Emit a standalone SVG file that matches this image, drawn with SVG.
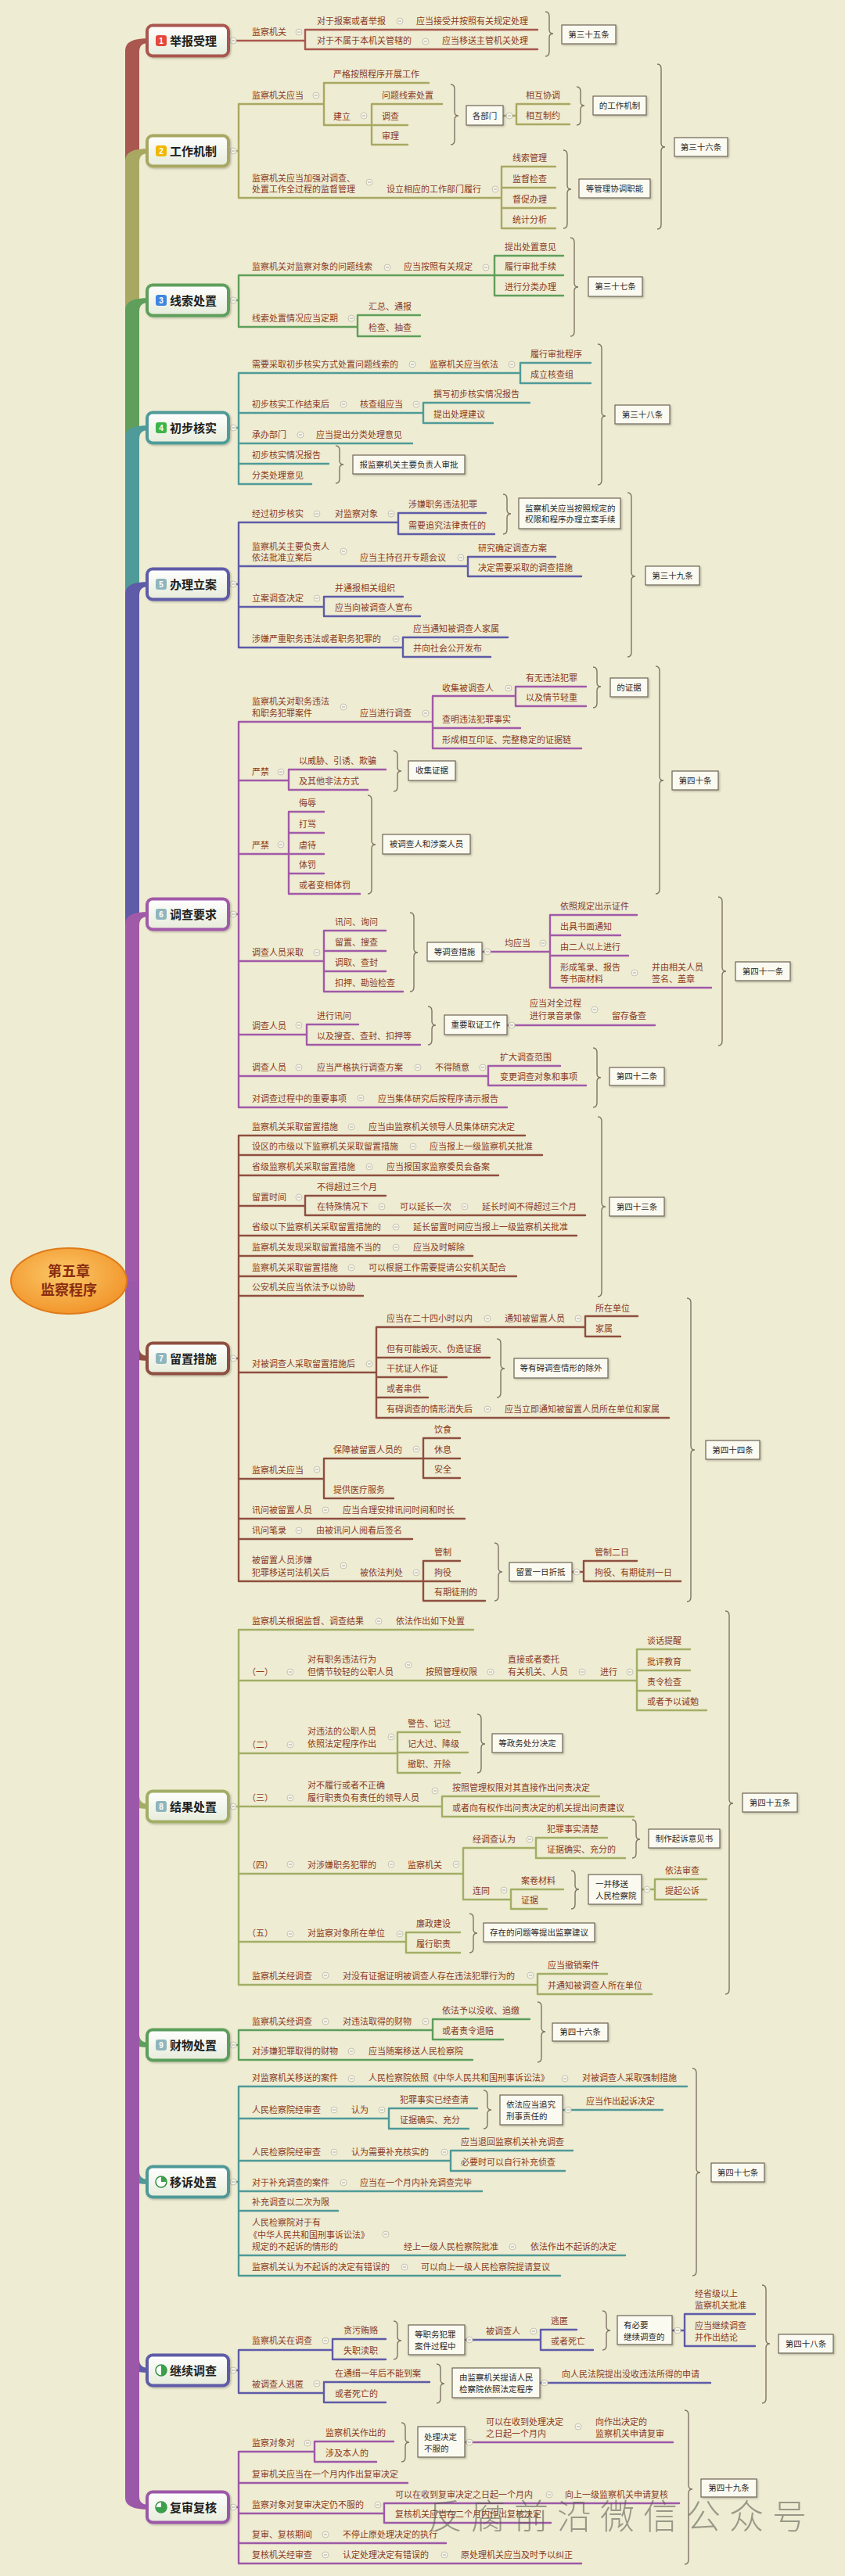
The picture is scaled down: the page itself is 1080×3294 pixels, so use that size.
<svg xmlns="http://www.w3.org/2000/svg" xmlns:xlink="http://www.w3.org/1999/xlink" width="1080" height="3294" viewBox="0 0 1080 3294">
<defs>
<style>
.t{font-family:"Noto Sans CJK SC","Noto Sans",sans-serif;font-size:11px;fill:#8b3b1f}
.bt{font-family:"Noto Sans CJK SC","Noto Sans",sans-serif;font-size:10.5px;fill:#2b2b2b}
.bm{text-anchor:middle}
.bx{fill:#fbfaf1;stroke:#6f6456;stroke-width:1.2;filter:url(#sh)}
.nt{font-family:"Noto Sans CJK SC","Noto Sans",sans-serif;font-size:15px;font-weight:bold;fill:#1f1f1f}
.bn{font-family:"Liberation Sans",sans-serif;font-size:10px;fill:#fff;text-anchor:middle;font-weight:bold}
.nb{fill:url(#ng);stroke-width:4;filter:url(#sh)}
.ln{fill:none;stroke-width:2.4;stroke-linecap:round}
.br{fill:none;stroke:#7f7466;stroke-width:1.4}
</style>
<linearGradient id="ng" x1="0" y1="0" x2="0" y2="1"><stop offset="0" stop-color="#ffffff"/><stop offset="1" stop-color="#e6ecda"/></linearGradient>
<radialGradient id="og" cx="0.45" cy="0.4" r="0.7"><stop offset="0" stop-color="#fbc868"/><stop offset="1" stop-color="#f08e22"/></radialGradient>
<filter id="sh" x="-10%" y="-20%" width="130%" height="150%"><feDropShadow dx="1.5" dy="1.5" stdDeviation="1" flood-color="#000" flood-opacity="0.22"/></filter>
<g id="col"><circle r="4" fill="#f6f5ea" stroke="#c5c3b0" stroke-width="1"/><path d="M-2,0H2" stroke="#aaa898" stroke-width="1"/></g>
</defs>
<rect width="1080" height="3294" fill="#eeecd2"/>

<g id="connectors">
<g id="trunk">
<path fill="#a9574f" d="M160,1638 L160,64 Q160,49 190,49 L190,55 Q178,55 178,66 L178,1638 Z"/>
<path fill="#a9a862" d="M160,1638 L160,205 Q160,190 190,190 L190,196 Q178,196 178,207 L178,1638 Z"/>
<path fill="#5f9f5b" d="M160,1638 L160,396 Q160,381 190,381 L190,387 Q178,387 178,398 L178,1638 Z"/>
<path fill="#4f9b99" d="M160,1638 L160,559 Q160,544 190,544 L190,550 Q178,550 178,561 L178,1638 Z"/>
<path fill="#5e5ba8" d="M160,1638 L160,759 Q160,744 190,744 L190,750 Q178,750 178,761 L178,1638 Z"/>
<path fill="#a15aa8" d="M160,1638 L160,1181 Q160,1166 190,1166 L190,1172 Q178,1172 178,1183 L178,1638 Z"/>
<path fill="#8e4f40" d="M160,1638 L160,1725 Q160,1740 190,1740 L190,1734 Q178,1734 178,1723 L178,1638 Z"/>
<path fill="#a2ae66" d="M160,1638 L160,2298 Q160,2313 190,2313 L190,2307 Q178,2307 178,2296 L178,1638 Z"/>
<path fill="#5c9e5c" d="M160,1638 L160,2603 Q160,2618 190,2618 L190,2612 Q178,2612 178,2601 L178,1638 Z"/>
<path fill="#4f9997" d="M160,1638 L160,2778 Q160,2793 190,2793 L190,2787 Q178,2787 178,2776 L178,1638 Z"/>
<path fill="#5e5ba8" d="M160,1638 L160,3019 Q160,3034 190,3034 L190,3028 Q178,3028 178,3017 L178,1638 Z"/>
<path fill="#9c58a8" d="M160,1638 L160,3194 Q160,3209 190,3209 L190,3203 Q178,3203 178,3192 L178,1638 Z"/>
</g>
<path class="ln" stroke="#a9574f" d="M292,52H390 M390,38V63 M390,38H687 M390,63H687"/>
<path class="ln" stroke="#a9a862" d="M292,193H305 M305,133V253 M305,133H414 M414,106V160 M414,106H548 M414,160H475 M475,133V185 M475,133H565 M475,160H521 M475,185H521 M643,148H660 M660,133V159 M660,133H728 M660,159H728 M305,253H641 M641,213V292 M641,213H710 M641,240H710 M641,266H710 M641,292H710"/>
<path class="ln" stroke="#5f9f5b" d="M292,384H305 M305,352V418 M305,352H632 M632,327V378 M632,327H720 M632,352H720 M632,378H720 M305,418H457 M457,403V430 M457,403H537 M457,430H537"/>
<path class="ln" stroke="#4f9b99" d="M292,547H305 M305,477V619 M305,477H665 M665,464V490 M665,464H755 M665,490H755 M305,528H541 M541,515V541 M541,515H677 M541,541H630 M305,567H527 M305,593H420 M305,619H398"/>
<path class="ln" stroke="#5e5ba8" d="M292,747H305 M305,668V828 M305,668H509 M509,656V683 M509,656H621 M509,683H632 M305,724H598 M598,712V737 M598,712H710 M598,737H743 M305,776H414 M414,763V788 M414,763H515 M414,788H537 M305,828H515 M515,815V840 M515,815H649 M515,840H627"/>
<path class="ln" stroke="#a15aa8" d="M292,1169H305 M305,923V1416 M305,923H553 M553,890V957 M553,890H659 M659,878V903 M659,878H749 M659,903H749 M553,931H665 M553,957H743 M305,998H369 M369,984V1010 M369,984H493 M369,1010H470 M305,1092H369 M369,1038V1143 M369,1038H414 M369,1065H414 M369,1092H414 M369,1117H414 M369,1143H460 M305,1229H414 M414,1190V1268 M414,1190H493 M414,1216H493 M414,1242H493 M414,1268H515 M616,1217H703 M703,1170V1263 M703,1170H814 M703,1196H793 M703,1222H803 M703,1263H909 M305,1323H392 M392,1310V1336 M392,1310H458 M392,1336H537 M648,1311H837 M305,1376H624 M624,1363V1388 M624,1363H716 M624,1388H749 M305,1416H648"/>
<path class="ln" stroke="#8e4f40" d="M292,1737H305 M305,1452V2022 M305,1452H671 M305,1477H693 M305,1503H637 M305,1542H390 M390,1529V1554 M390,1529H493 M390,1554H748 M305,1580H737 M305,1606H604 M305,1632H660 M305,1657H464 M305,1755H481 M481,1697V1813 M481,1697H748 M748,1683V1709 M748,1683H815 M748,1709H793 M481,1736H626 M481,1761H571 M481,1787H547 M481,1813H855 M305,1891H414 M414,1865V1916 M414,1865H541 M541,1839V1890 M541,1839H588 M541,1865H588 M541,1890H588 M414,1916H503 M305,1942H594 M305,1968H527 M305,2022H541 M541,1996V2047 M541,1996H588 M541,2022H588 M541,2047H620 M731,2010H746 M746,1996V2022 M746,1996H814 M746,2022H870"/>
<path class="ln" stroke="#a2ae66" d="M292,2310H305 M305,2084V2538 M305,2084H605 M305,2149H814 M814,2109V2187 M814,2109H882 M814,2136H882 M814,2162H882 M814,2187H903 M305,2242H508 M508,2215V2267 M508,2215H588 M508,2241H598 M508,2267H588 M305,2310H565 M565,2297V2323 M565,2297H766 M565,2323H810 M305,2396H592 M592,2363V2429 M592,2363H685 M685,2350V2376 M685,2350H776 M685,2376H799 M592,2429H653 M653,2416V2441 M653,2416H720 M653,2441H699 M820,2416H837 M837,2403V2429 M837,2403H903 M837,2429H903 M305,2483H519 M519,2471V2497 M519,2471H588 M519,2497H588 M305,2538H687 M687,2524V2550 M687,2524H776 M687,2550H833"/>
<path class="ln" stroke="#5c9e5c" d="M292,2615H305 M305,2596V2634 M305,2596H553 M553,2582V2608 M553,2582H677 M553,2608H643 M305,2634H604"/>
<path class="ln" stroke="#4f9997" d="M292,2790H305 M305,2668V2910 M305,2668H878 M305,2709H497 M497,2696V2722 M497,2696H610 M497,2722H599 M719,2698H847 M305,2763H576 M576,2750V2776 M576,2750H732 M576,2776H722 M305,2802H616 M305,2827H432 M305,2884H799 M305,2910H716"/>
<path class="ln" stroke="#5e5ba8" d="M292,3031H305 M305,3005V3060 M305,3005H425 M425,2991V3017 M425,2991H493 M425,3017H493 M594,2992H691 M691,2979V3005 M691,2979H737 M691,3005H758 M859,2980H875 M875,2959V3000 M875,2959H965 M875,3000H965 M305,3060H414 M414,3046V3072 M414,3046H549 M414,3072H493 M690,3047H908"/>
<path class="ln" stroke="#9c58a8" d="M292,3206H305 M305,3135V3278 M305,3135H402 M402,3122V3148 M402,3122H503 M402,3148H481 M594,3123H860 M305,3175H521 M305,3214H491 M491,3201V3226 M491,3201H868 M491,3226H704 M305,3252H570 M305,3278H743"/>
<g id="braces" class="br">
<path d="M697,15 Q702,15 702,21 V38 Q702,43 707,43 Q702,43 702,48 V66 Q702,72 697,72"/>
<path d="M576,108 Q581,108 581,114 V143 Q581,148 586,148 Q581,148 581,153 V179 Q581,185 576,185"/>
<path d="M737,111 Q742,111 742,117 V130 Q742,135 747,135 Q742,135 742,140 V154 Q742,160 737,160"/>
<path d="M720,192 Q725,192 725,198 V237 Q725,242 730,242 Q725,242 725,247 V286 Q725,292 720,292"/>
<path d="M840,82 Q845,82 845,88 V183 Q845,188 850,188 Q845,188 845,193 V287 Q845,293 840,293"/>
<path d="M729,304 Q734,304 734,310 V362 Q734,367 739,367 Q734,367 734,372 V424 Q734,430 729,430"/>
<path d="M429,570 Q434,570 434,576 V589 Q434,594 439,594 Q434,594 434,599 V612 Q434,618 429,618"/>
<path d="M764,440 Q769,440 769,446 V527 Q769,532 774,532 Q769,532 769,537 V614 Q769,620 764,620"/>
<path d="M643,632 Q648,632 648,638 V652 Q648,657 653,657 Q648,657 648,662 V677 Q648,683 643,683"/>
<path d="M802,630 Q807,630 807,636 V732 Q807,737 812,737 Q807,737 807,742 V834 Q807,840 802,840"/>
<path d="M758,853 Q763,853 763,859 V873 Q763,878 768,878 Q763,878 763,883 V899 Q763,905 758,905"/>
<path d="M503,960 Q508,960 508,966 V981 Q508,986 513,986 Q508,986 508,991 V1006 Q508,1012 503,1012"/>
<path d="M470,1017 Q475,1017 475,1023 V1075 Q475,1080 480,1080 Q475,1080 475,1085 V1137 Q475,1143 470,1143"/>
<path d="M838,852 Q843,852 843,858 V993 Q843,998 848,998 Q843,998 843,1003 V1137 Q843,1143 838,1143"/>
<path d="M524,1167 Q529,1167 529,1173 V1213 Q529,1218 534,1218 Q529,1218 529,1223 V1262 Q529,1268 524,1268"/>
<path d="M547,1287 Q552,1287 552,1293 V1306 Q552,1311 557,1311 Q552,1311 552,1316 V1330 Q552,1336 547,1336"/>
<path d="M918,1147 Q923,1147 923,1153 V1237 Q923,1242 928,1242 Q923,1242 923,1247 V1331 Q923,1337 918,1337"/>
<path d="M758,1340 Q763,1340 763,1346 V1373 Q763,1378 768,1378 Q763,1378 763,1383 V1410 Q763,1416 758,1416"/>
<path d="M764,1428 Q769,1428 769,1434 V1538 Q769,1543 774,1543 Q769,1543 769,1548 V1652 Q769,1658 764,1658"/>
<path d="M635,1712 Q640,1712 640,1718 V1745 Q640,1750 645,1750 Q640,1750 640,1755 V1781 Q640,1787 635,1787"/>
<path d="M632,1973 Q637,1973 637,1979 V2005 Q637,2010 642,2010 Q637,2010 637,2015 V2041 Q637,2047 632,2047"/>
<path d="M878,1660 Q883,1660 883,1666 V1849 Q883,1854 888,1854 Q883,1854 883,1859 V2042 Q883,2048 878,2048"/>
<path d="M610,2192 Q615,2192 615,2198 V2225 Q615,2230 620,2230 Q615,2230 615,2235 V2261 Q615,2267 610,2267"/>
<path d="M808,2327 Q813,2327 813,2333 V2347 Q813,2352 818,2352 Q813,2352 813,2357 V2370 Q813,2376 808,2376"/>
<path d="M730,2392 Q735,2392 735,2398 V2411 Q735,2416 740,2416 Q735,2416 735,2421 V2435 Q735,2441 730,2441"/>
<path d="M600,2447 Q605,2447 605,2453 V2467 Q605,2472 610,2472 Q605,2472 605,2477 V2491 Q605,2497 600,2497"/>
<path d="M927,2060 Q932,2060 932,2066 V2301 Q932,2306 937,2306 Q932,2306 932,2311 V2544 Q932,2550 927,2550"/>
<path d="M687,2560 Q692,2560 692,2566 V2593 Q692,2598 697,2598 Q692,2598 692,2603 V2631 Q692,2637 687,2637"/>
<path d="M618,2673 Q623,2673 623,2679 V2693 Q623,2698 628,2698 Q623,2698 623,2703 V2716 Q623,2722 618,2722"/>
<path d="M885,2645 Q890,2645 890,2651 V2773 Q890,2778 895,2778 Q890,2778 890,2783 V2904 Q890,2910 885,2910"/>
<path d="M503,2968 Q508,2968 508,2974 V2988 Q508,2993 513,2993 Q508,2993 508,2998 V3011 Q508,3017 503,3017"/>
<path d="M770,2955 Q775,2955 775,2961 V2975 Q775,2980 780,2980 Q775,2980 775,2985 V2999 Q775,3005 770,3005"/>
<path d="M558,3023 Q563,3023 563,3029 V3043 Q563,3048 568,3048 Q563,3048 563,3053 V3067 Q563,3073 558,3073"/>
<path d="M974,2922 Q979,2922 979,2928 V2992 Q979,2997 984,2997 Q979,2997 979,3002 V3067 Q979,3073 974,3073"/>
<path d="M513,3098 Q518,3098 518,3104 V3118 Q518,3123 523,3123 Q518,3123 518,3128 V3142 Q518,3148 513,3148"/>
<path d="M875,3082 Q880,3082 880,3088 V3178 Q880,3183 885,3183 Q880,3183 880,3188 V3273 Q880,3279 875,3279"/>
</g>
<g id="collapse-marks">
<use href="#col" x="298" y="52"/><use href="#col" x="382" y="41"/><use href="#col" x="511" y="27"/><use href="#col" x="544" y="53"/>
<use href="#col" x="298" y="193"/><use href="#col" x="404" y="122"/><use href="#col" x="465" y="148"/><use href="#col" x="651" y="148"/><use href="#col" x="472" y="233"/><use href="#col" x="633" y="242"/>
<use href="#col" x="298" y="384"/><use href="#col" x="495" y="342"/><use href="#col" x="621" y="342"/><use href="#col" x="449" y="407"/>
<use href="#col" x="298" y="547"/><use href="#col" x="527" y="466"/><use href="#col" x="654" y="466"/><use href="#col" x="439" y="517"/><use href="#col" x="532" y="517"/><use href="#col" x="384" y="556"/>
<use href="#col" x="298" y="747"/><use href="#col" x="405" y="657"/><use href="#col" x="500" y="657"/><use href="#col" x="439" y="705"/><use href="#col" x="589" y="713"/><use href="#col" x="405" y="765"/><use href="#col" x="506" y="817"/>
<use href="#col" x="298" y="1169"/><use href="#col" x="439" y="904"/><use href="#col" x="544" y="912"/><use href="#col" x="650" y="880"/><use href="#col" x="359" y="987"/><use href="#col" x="359" y="1080"/><use href="#col" x="405" y="1218"/><use href="#col" x="623" y="1217"/><use href="#col" x="694" y="1206"/><use href="#col" x="811" y="1244"/><use href="#col" x="382" y="1311"/><use href="#col" x="654" y="1311"/><use href="#col" x="760" y="1291"/><use href="#col" x="382" y="1365"/><use href="#col" x="534" y="1365"/><use href="#col" x="617" y="1365"/><use href="#col" x="461" y="1404"/>
<use href="#col" x="298" y="1737"/><use href="#col" x="449" y="1441"/><use href="#col" x="528" y="1466"/><use href="#col" x="472" y="1492"/><use href="#col" x="382" y="1531"/><use href="#col" x="488" y="1543"/><use href="#col" x="594" y="1543"/><use href="#col" x="506" y="1569"/><use href="#col" x="506" y="1595"/><use href="#col" x="449" y="1621"/><use href="#col" x="472" y="1744"/><use href="#col" x="623" y="1686"/><use href="#col" x="739" y="1686"/><use href="#col" x="623" y="1802"/><use href="#col" x="405" y="1879"/><use href="#col" x="532" y="1853"/><use href="#col" x="416" y="1931"/><use href="#col" x="382" y="1957"/><use href="#col" x="439" y="2002"/><use href="#col" x="532" y="2011"/><use href="#col" x="737" y="2010"/>
<use href="#col" x="298" y="2310"/><use href="#col" x="484" y="2073"/><use href="#col" x="371" y="2138"/><use href="#col" x="522" y="2129"/><use href="#col" x="627" y="2138"/><use href="#col" x="744" y="2138"/><use href="#col" x="805" y="2138"/><use href="#col" x="371" y="2231"/><use href="#col" x="500" y="2221"/><use href="#col" x="371" y="2299"/><use href="#col" x="556" y="2290"/><use href="#col" x="371" y="2384"/><use href="#col" x="500" y="2384"/><use href="#col" x="583" y="2384"/><use href="#col" x="677" y="2352"/><use href="#col" x="644" y="2417"/><use href="#col" x="827" y="2416"/><use href="#col" x="371" y="2473"/><use href="#col" x="511" y="2473"/><use href="#col" x="416" y="2526"/><use href="#col" x="678" y="2526"/>
<use href="#col" x="298" y="2615"/><use href="#col" x="416" y="2585"/><use href="#col" x="544" y="2585"/><use href="#col" x="449" y="2623"/>
<use href="#col" x="298" y="2790"/><use href="#col" x="449" y="2658"/><use href="#col" x="722" y="2658"/><use href="#col" x="427" y="2698"/><use href="#col" x="488" y="2698"/><use href="#col" x="726" y="2698"/><use href="#col" x="427" y="2752"/><use href="#col" x="568" y="2752"/><use href="#col" x="439" y="2791"/><use href="#col" x="493" y="2857"/><use href="#col" x="655" y="2873"/><use href="#col" x="517" y="2899"/>
<use href="#col" x="298" y="3031"/><use href="#col" x="416" y="2993"/><use href="#col" x="600" y="2992"/><use href="#col" x="682" y="2981"/><use href="#col" x="866" y="2980"/><use href="#col" x="405" y="3048"/><use href="#col" x="696" y="3047"/>
<use href="#col" x="298" y="3206"/><use href="#col" x="393" y="3124"/><use href="#col" x="600" y="3123"/><use href="#col" x="739" y="3103"/><use href="#col" x="483" y="3203"/><use href="#col" x="702" y="3190"/><use href="#col" x="416" y="3241"/><use href="#col" x="416" y="3267"/><use href="#col" x="568" y="3267"/>
</g>
</g>

<g id="center">
<ellipse cx="88" cy="1638" rx="74" ry="42" fill="url(#og)" stroke="#e07a1a" stroke-width="2"/>
<text x="88" y="1632" text-anchor="middle" style="font-family:'Noto Sans CJK SC',sans-serif;font-size:18px;font-weight:bold;fill:#8a2c10">第五章</text>
<text x="88" y="1656" text-anchor="middle" style="font-family:'Noto Sans CJK SC',sans-serif;font-size:18px;font-weight:bold;fill:#8a2c10">监察程序</text>
</g>

<g id="node-1"><rect class="nb" x="188" y="32.5" width="104" height="39" rx="7" stroke="#a9574f"/><rect x="199" y="45" width="14" height="14" rx="3" fill="#e5483c"/><text class="bn" x="206" y="56">1</text><text class="nt" x="217" y="57.5">举报受理</text></g>
<g id="node-2"><rect class="nb" x="188" y="173.5" width="104" height="39" rx="7" stroke="#a9a862"/><rect x="199" y="186" width="14" height="14" rx="3" fill="#f2b705"/><text class="bn" x="206" y="197">2</text><text class="nt" x="217" y="198.5">工作机制</text></g>
<g id="node-3"><rect class="nb" x="188" y="364.5" width="104" height="39" rx="7" stroke="#5f9f5b"/><rect x="199" y="377" width="14" height="14" rx="3" fill="#3f86e0"/><text class="bn" x="206" y="388">3</text><text class="nt" x="217" y="389.5">线索处置</text></g>
<g id="node-4"><rect class="nb" x="188" y="527.5" width="104" height="39" rx="7" stroke="#4f9b99"/><rect x="199" y="540" width="14" height="14" rx="3" fill="#3cb44a"/><text class="bn" x="206" y="551">4</text><text class="nt" x="217" y="552.5">初步核实</text></g>
<g id="node-5"><rect class="nb" x="188" y="727.5" width="104" height="39" rx="7" stroke="#5e5ba8"/><rect x="199" y="740" width="14" height="14" rx="3" fill="#8fb5bd"/><text class="bn" x="206" y="751">5</text><text class="nt" x="217" y="752.5">办理立案</text></g>
<g id="node-6"><rect class="nb" x="188" y="1149.5" width="104" height="39" rx="7" stroke="#a15aa8"/><rect x="199" y="1162" width="14" height="14" rx="3" fill="#8fb5bd"/><text class="bn" x="206" y="1173">6</text><text class="nt" x="217" y="1174.5">调查要求</text></g>
<g id="node-7"><rect class="nb" x="188" y="1717.5" width="104" height="39" rx="7" stroke="#8e4f40"/><rect x="199" y="1730" width="14" height="14" rx="3" fill="#8fb5bd"/><text class="bn" x="206" y="1741">7</text><text class="nt" x="217" y="1742.5">留置措施</text></g>
<g id="node-8"><rect class="nb" x="188" y="2290.5" width="104" height="39" rx="7" stroke="#a2ae66"/><rect x="199" y="2303" width="14" height="14" rx="3" fill="#8fb5bd"/><text class="bn" x="206" y="2314">8</text><text class="nt" x="217" y="2315.5">结果处置</text></g>
<g id="node-9"><rect class="nb" x="188" y="2595.5" width="104" height="39" rx="7" stroke="#5c9e5c"/><rect x="199" y="2608" width="14" height="14" rx="3" fill="#8fb5bd"/><text class="bn" x="206" y="2619">9</text><text class="nt" x="217" y="2620.5">财物处置</text></g>
<g id="node-10"><rect class="nb" x="188" y="2770.5" width="104" height="39" rx="7" stroke="#4f9997"/><circle cx="206" cy="2790" r="7" fill="#fff" stroke="#2f8f3f" stroke-width="1.5"/><path d="M206,2790 L206,2783 A7,7 0 0 1 213,2790 Z" fill="#3aa04a"/><text class="nt" x="217" y="2795.5">移诉处置</text></g>
<g id="node-11"><rect class="nb" x="188" y="3011.5" width="104" height="39" rx="7" stroke="#5e5ba8"/><circle cx="206" cy="3031" r="7" fill="#fff" stroke="#2f8f3f" stroke-width="1.5"/><path d="M206,3024 A7,7 0 0 1 206,3038 Z" fill="#3aa04a"/><text class="nt" x="217" y="3036.5">继续调查</text></g>
<g id="node-12"><rect class="nb" x="188" y="3186.5" width="104" height="39" rx="7" stroke="#9c58a8"/><circle cx="206" cy="3206" r="7" fill="#fff" stroke="#2f8f3f" stroke-width="1.5"/><path d="M206,3206 L206,3199 A7,7 0 1 1 199,3206 Z" fill="#3aa04a"/><text class="nt" x="217" y="3211.5">复审复核</text></g>

<g id="labels-1" class="t">
<text x="322" y="45">监察机关</text>
<text x="405" y="31">对于报案或者举报</text>
<text x="532" y="31">应当接受并按照有关规定处理</text>
<text x="405" y="56">对于不属于本机关管辖的</text>
<text x="565" y="56">应当移送主管机关处理</text>
</g>
<g id="boxes-1"><rect class="bx" x="718" y="32" width="69" height="24"/><text class="bt bm" x="752.5" y="48">第三十五条</text></g>

<g id="labels-2" class="t">
<text x="322" y="126">监察机关应当</text>
<text x="426" y="99">严格按照程序开展工作</text>
<text x="426" y="153">建立</text>
<text x="488" y="126">问题线索处置</text>
<text x="488" y="153">调查</text>
<text x="488" y="178">审理</text>
<text x="672" y="126">相互协调</text>
<text x="672" y="152">相互制约</text>
<text x="322" y="232">监察机关应当加强对调查、</text>
<text x="322" y="246">处置工作全过程的监督管理</text>
<text x="494" y="246">设立相应的工作部门履行</text>
<text x="655" y="206">线索管理</text>
<text x="655" y="233">监督检查</text>
<text x="655" y="259">督促办理</text>
<text x="655" y="285">统计分析</text>
</g>
<g id="boxes-2">
<rect class="bx" x="596" y="135" width="47" height="25"/><text class="bt bm" x="619.5" y="151.5">各部门</text>
<rect class="bx" x="758" y="123" width="68" height="24"/><text class="bt bm" x="792" y="139">的工作机制</text>
<rect class="bx" x="740" y="229" width="91" height="24"/><text class="bt bm" x="785.5" y="245">等管理协调职能</text>
<rect class="bx" x="862" y="176" width="68" height="24"/><text class="bt bm" x="896" y="192">第三十六条</text>
</g>

<g id="labels-3" class="t">
<text x="322" y="345">监察机关对监察对象的问题线索</text>
<text x="516" y="345">应当按照有关规定</text>
<text x="645" y="320">提出处置意见</text>
<text x="645" y="345">履行审批手续</text>
<text x="645" y="371">进行分类办理</text>
<text x="322" y="411">线索处置情况应当定期</text>
<text x="471" y="396">汇总、通报</text>
<text x="471" y="423">检查、抽查</text>
</g>
<g id="boxes-3"><rect class="bx" x="752" y="354" width="69" height="25"/><text class="bt bm" x="786.5" y="370">第三十七条</text></g>

<g id="labels-4" class="t">
<text x="322" y="470">需要采取初步核实方式处置问题线索的</text>
<text x="549" y="470">监察机关应当依法</text>
<text x="678" y="457">履行审批程序</text>
<text x="678" y="483">成立核查组</text>
<text x="322" y="521">初步核实工作结束后</text>
<text x="460" y="521">核查组应当</text>
<text x="554" y="508">撰写初步核实情况报告</text>
<text x="554" y="534">提出处理建议</text>
<text x="322" y="560">承办部门</text>
<text x="404" y="560">应当提出分类处理意见</text>
<text x="322" y="586">初步核实情况报告</text>
<text x="322" y="612">分类处理意见</text>
</g>
<g id="boxes-4">
<rect class="bx" x="451" y="582" width="143" height="24"/><text class="bt bm" x="522.5" y="598">报监察机关主要负责人审批</text>
<rect class="bx" x="786" y="518" width="70" height="24"/><text class="bt bm" x="821" y="534">第三十八条</text>
</g>

<g id="labels-5" class="t">
<text x="322" y="661">经过初步核实</text>
<text x="428" y="661">对监察对象</text>
<text x="522" y="649">涉嫌职务违法犯罪</text>
<text x="522" y="676">需要追究法律责任的</text>
<text x="322" y="703">监察机关主要负责人</text>
<text x="322" y="717">依法批准立案后</text>
<text x="460" y="717">应当主持召开专题会议</text>
<text x="611" y="705">研究确定调查方案</text>
<text x="611" y="730">决定需要采取的调查措施</text>
<text x="322" y="769">立案调查决定</text>
<text x="428" y="756">并通报相关组织</text>
<text x="428" y="781">应当向被调查人宣布</text>
<text x="322" y="821">涉嫌严重职务违法或者职务犯罪的</text>
<text x="528" y="808">应当通知被调查人家属</text>
<text x="528" y="833">并向社会公开发布</text>
</g>
<g id="boxes-5">
<rect class="bx" x="663" y="637" width="130" height="39"/><text class="bt" x="671" y="654">监察机关应当按照规定的</text><text class="bt" x="671" y="668">权限和程序办理立案手续</text>
<rect class="bx" x="825" y="724" width="69" height="24"/><text class="bt bm" x="859.5" y="740">第三十九条</text>
</g>

<g id="labels-6" class="t">
<text x="322" y="901">监察机关对职务违法</text>
<text x="322" y="916">和职务犯罪案件</text>
<text x="460" y="916">应当进行调查</text>
<text x="565" y="884">收集被调查人</text>
<text x="672" y="871">有无违法犯罪</text>
<text x="672" y="896">以及情节轻重</text>
<text x="565" y="924">查明违法犯罪事实</text>
<text x="565" y="950">形成相互印证、完整稳定的证据链</text>
<text x="322" y="991">严禁</text>
<text x="382" y="977">以威胁、引诱、欺骗</text>
<text x="382" y="1003">及其他非法方式</text>
<text x="322" y="1085">严禁</text>
<text x="382" y="1031">侮辱</text>
<text x="382" y="1058">打骂</text>
<text x="382" y="1085">虐待</text>
<text x="382" y="1110">体罚</text>
<text x="382" y="1136">或者变相体罚</text>
<text x="322" y="1222">调查人员采取</text>
<text x="428" y="1183">讯问、询问</text>
<text x="428" y="1209">留置、搜查</text>
<text x="428" y="1235">调取、查封</text>
<text x="428" y="1261">扣押、勘验检查</text>
<text x="645" y="1210">均应当</text>
<text x="716" y="1163">依照规定出示证件</text>
<text x="716" y="1189">出具书面通知</text>
<text x="716" y="1215">由二人以上进行</text>
<text x="716" y="1241">形成笔录、报告</text>
<text x="716" y="1256">等书面材料</text>
<text x="833" y="1241">并由相关人员</text>
<text x="833" y="1256">签名、盖章</text>
<text x="322" y="1316">调查人员</text>
<text x="405" y="1303">进行讯问</text>
<text x="405" y="1329">以及搜查、查封、扣押等</text>
<text x="677" y="1287">应当对全过程</text>
<text x="677" y="1303">进行录音录像</text>
<text x="782" y="1303">留存备查</text>
<text x="322" y="1369">调查人员</text>
<text x="405" y="1369">应当严格执行调查方案</text>
<text x="556" y="1369">不得随意</text>
<text x="639" y="1356">扩大调查范围</text>
<text x="639" y="1381">变更调查对象和事项</text>
<text x="322" y="1409">对调查过程中的重要事项</text>
<text x="483" y="1409">应当集体研究后按程序请示报告</text>
</g>
<g id="boxes-6">
<rect class="bx" x="780" y="867" width="48" height="24"/><text class="bt bm" x="804" y="883">的证据</text>
<rect class="bx" x="522" y="973" width="60" height="25"/><text class="bt bm" x="552" y="989">收集证据</text>
<rect class="bx" x="489" y="1067" width="112" height="25"/><text class="bt bm" x="545" y="1083">被调查人和涉案人员</text>
<rect class="bx" x="859" y="986" width="59" height="24"/><text class="bt bm" x="888.5" y="1002">第四十条</text>
<rect class="bx" x="546" y="1205" width="70" height="24"/><text class="bt bm" x="581" y="1221">等调查措施</text>
<rect class="bx" x="568" y="1298" width="80" height="25"/><text class="bt bm" x="608" y="1314">重要取证工作</text>
<rect class="bx" x="940" y="1230" width="70" height="24"/><text class="bt bm" x="975" y="1246">第四十一条</text>
<rect class="bx" x="779" y="1365" width="70" height="23"/><text class="bt bm" x="814" y="1380">第四十二条</text>
</g>

<g id="labels-7" class="t">
<text x="322" y="1445">监察机关采取留置措施</text>
<text x="471" y="1445">应当由监察机关领导人员集体研究决定</text>
<text x="322" y="1470">设区的市级以下监察机关采取留置措施</text>
<text x="549" y="1470">应当报上一级监察机关批准</text>
<text x="322" y="1496">省级监察机关采取留置措施</text>
<text x="494" y="1496">应当报国家监察委员会备案</text>
<text x="322" y="1535">留置时间</text>
<text x="405" y="1522">不得超过三个月</text>
<text x="405" y="1547">在特殊情况下</text>
<text x="511" y="1547">可以延长一次</text>
<text x="616" y="1547">延长时间不得超过三个月</text>
<text x="322" y="1573">省级以下监察机关采取留置措施的</text>
<text x="528" y="1573">延长留置时间应当报上一级监察机关批准</text>
<text x="322" y="1599">监察机关发现采取留置措施不当的</text>
<text x="528" y="1599">应当及时解除</text>
<text x="322" y="1625">监察机关采取留置措施</text>
<text x="471" y="1625">可以根据工作需要提请公安机关配合</text>
<text x="322" y="1650">公安机关应当依法予以协助</text>
<text x="322" y="1748">对被调查人采取留置措施后</text>
<text x="494" y="1690">应当在二十四小时以内</text>
<text x="645" y="1690">通知被留置人员</text>
<text x="761" y="1677">所在单位</text>
<text x="761" y="1703">家属</text>
<text x="494" y="1729">但有可能毁灭、伪造证据</text>
<text x="494" y="1754">干扰证人作证</text>
<text x="494" y="1780">或者串供</text>
<text x="494" y="1806">有碍调查的情形消失后</text>
<text x="645" y="1806">应当立即通知被留置人员所在单位和家属</text>
<text x="322" y="1884">监察机关应当</text>
<text x="426" y="1858">保障被留置人员的</text>
<text x="555" y="1832">饮食</text>
<text x="555" y="1858">休息</text>
<text x="555" y="1883">安全</text>
<text x="426" y="1909">提供医疗服务</text>
<text x="322" y="1935">讯问被留置人员</text>
<text x="438" y="1935">应当合理安排讯问时间和时长</text>
<text x="322" y="1961">讯问笔录</text>
<text x="404" y="1961">由被讯问人阅看后签名</text>
<text x="322" y="1999">被留置人员涉嫌</text>
<text x="322" y="2015">犯罪移送司法机关后</text>
<text x="460" y="2015">被依法判处</text>
<text x="555" y="1989">管制</text>
<text x="555" y="2015">拘役</text>
<text x="555" y="2040">有期徒刑的</text>
<text x="760" y="1989">管制二日</text>
<text x="760" y="2015">拘役、有期徒刑一日</text>
</g>
<g id="boxes-7">
<rect class="bx" x="779" y="1531" width="70" height="24"/><text class="bt bm" x="814" y="1547">第四十三条</text>
<rect class="bx" x="657" y="1737" width="120" height="25"/><text class="bt bm" x="717" y="1753">等有碍调查情形的除外</text>
<rect class="bx" x="651" y="1998" width="80" height="24"/><text class="bt bm" x="691" y="2014">留置一日折抵</text>
<rect class="bx" x="902" y="1842" width="69" height="24"/><text class="bt bm" x="936.5" y="1858">第四十四条</text>
</g>

<g id="labels-8" class="t">
<text x="322" y="2077">监察机关根据监督、调查结果</text>
<text x="506" y="2077">依法作出如下处置</text>
<text x="316" y="2142">（一）</text>
<text x="393" y="2126">对有职务违法行为</text>
<text x="393" y="2142">但情节较轻的公职人员</text>
<text x="544" y="2142">按照管理权限</text>
<text x="649" y="2126">直接或者委托</text>
<text x="649" y="2142">有关机关、人员</text>
<text x="767" y="2142">进行</text>
<text x="827" y="2102">谈话提醒</text>
<text x="827" y="2129">批评教育</text>
<text x="827" y="2155">责令检查</text>
<text x="827" y="2180">或者予以诫勉</text>
<text x="316" y="2235">（二）</text>
<text x="393" y="2218">对违法的公职人员</text>
<text x="393" y="2234">依照法定程序作出</text>
<text x="521" y="2208">警告、记过</text>
<text x="521" y="2234">记大过、降级</text>
<text x="521" y="2260">撤职、开除</text>
<text x="316" y="2303">（三）</text>
<text x="393" y="2287">对不履行或者不正确</text>
<text x="393" y="2303">履行职责负有责任的领导人员</text>
<text x="578" y="2290">按照管理权限对其直接作出问责决定</text>
<text x="578" y="2316">或者向有权作出问责决定的机关提出问责建议</text>
<text x="316" y="2389">（四）</text>
<text x="393" y="2389">对涉嫌职务犯罪的</text>
<text x="521" y="2389">监察机关</text>
<text x="604" y="2356">经调查认为</text>
<text x="699" y="2343">犯罪事实清楚</text>
<text x="699" y="2369">证据确实、充分的</text>
<text x="604" y="2422">连同</text>
<text x="666" y="2409">案卷材料</text>
<text x="666" y="2434">证据</text>
<text x="850" y="2396">依法审查</text>
<text x="850" y="2422">提起公诉</text>
<text x="316" y="2476">（五）</text>
<text x="393" y="2476">对监察对象所在单位</text>
<text x="532" y="2464">廉政建设</text>
<text x="532" y="2490">履行职责</text>
<text x="322" y="2531">监察机关经调查</text>
<text x="438" y="2531">对没有证据证明被调查人存在违法犯罪行为的</text>
<text x="700" y="2517">应当撤销案件</text>
<text x="700" y="2543">并通知被调查人所在单位</text>
</g>
<g id="boxes-8">
<rect class="bx" x="629" y="2217" width="90" height="24"/><text class="bt bm" x="674" y="2233">等政务处分决定</text>
<rect class="bx" x="829" y="2339" width="91" height="24"/><text class="bt bm" x="874.5" y="2355">制作起诉意见书</text>
<rect class="bx" x="752" y="2397" width="68" height="38"/><text class="bt" x="761" y="2413">一并移送</text><text class="bt" x="761" y="2428">人民检察院</text>
<rect class="bx" x="618" y="2459" width="142" height="24"/><text class="bt bm" x="689" y="2475">存在的问题等提出监察建议</text>
<rect class="bx" x="949" y="2293" width="70" height="24"/><text class="bt bm" x="984" y="2309">第四十五条</text>
</g>

<g id="labels-9" class="t">
<text x="322" y="2589">监察机关经调查</text>
<text x="438" y="2589">对违法取得的财物</text>
<text x="565" y="2575">依法予以没收、追缴</text>
<text x="565" y="2601">或者责令退赔</text>
<text x="322" y="2627">对涉嫌犯罪取得的财物</text>
<text x="471" y="2627">应当随案移送人民检察院</text>
</g>
<g id="boxes-9"><rect class="bx" x="706" y="2587" width="71" height="23"/><text class="bt bm" x="741.5" y="2602">第四十六条</text></g>

<g id="labels-10" class="t">
<text x="322" y="2661">对监察机关移送的案件</text>
<text x="471" y="2661">人民检察院依照《中华人民共和国刑事诉讼法》</text>
<text x="744" y="2661">对被调查人采取强制措施</text>
<text x="322" y="2702">人民检察院经审查</text>
<text x="449" y="2702">认为</text>
<text x="511" y="2689">犯罪事实已经查清</text>
<text x="511" y="2715">证据确实、充分</text>
<text x="749" y="2691">应当作出起诉决定</text>
<text x="322" y="2756">人民检察院经审查</text>
<text x="449" y="2756">认为需要补充核实的</text>
<text x="589" y="2743">应当退回监察机关补充调查</text>
<text x="589" y="2769">必要时可以自行补充侦查</text>
<text x="322" y="2795">对于补充调查的案件</text>
<text x="460" y="2795">应当在一个月内补充调查完毕</text>
<text x="322" y="2820">补充调查以二次为限</text>
<text x="322" y="2846">人民检察院对于有</text>
<text x="318" y="2862">《中华人民共和国刑事诉讼法》</text>
<text x="322" y="2877">规定的不起诉的情形的</text>
<text x="516" y="2877">经上一级人民检察院批准</text>
<text x="678" y="2877">依法作出不起诉的决定</text>
<text x="322" y="2903">监察机关认为不起诉的决定有错误的</text>
<text x="538" y="2903">可以向上一级人民检察院提请复议</text>
</g>
<g id="boxes-10">
<rect class="bx" x="639" y="2679" width="80" height="38"/><text class="bt" x="647" y="2695">依法应当追究</text><text class="bt" x="647" y="2710">刑事责任的</text>
<rect class="bx" x="909" y="2766" width="68" height="24"/><text class="bt bm" x="943" y="2782">第四十七条</text>
</g>

<g id="labels-11" class="t">
<text x="322" y="2997">监察机关在调查</text>
<text x="439" y="2984">贪污贿赂</text>
<text x="439" y="3010">失职渎职</text>
<text x="621" y="2985">被调查人</text>
<text x="704" y="2972">逃匿</text>
<text x="704" y="2998">或者死亡</text>
<text x="888" y="2937">经省级以上</text>
<text x="888" y="2952">监察机关批准</text>
<text x="888" y="2978">应当继续调查</text>
<text x="888" y="2993">并作出结论</text>
<text x="322" y="3053">被调查人逃匿</text>
<text x="428" y="3039">在通缉一年后不能到案</text>
<text x="428" y="3065">或者死亡的</text>
<text x="718" y="3040">向人民法院提出没收违法所得的申请</text>
</g>
<g id="boxes-11">
<rect class="bx" x="522" y="2973" width="72" height="38"/><text class="bt" x="530" y="2989">等职务犯罪</text><text class="bt" x="530" y="3004">案件过程中</text>
<rect class="bx" x="789" y="2961" width="70" height="37"/><text class="bt" x="797" y="2977">有必要</text><text class="bt" x="797" y="2992">继续调查的</text>
<rect class="bx" x="578" y="3028" width="112" height="38"/><text class="bt" x="587" y="3044">由监察机关提请人民</text><text class="bt" x="587" y="3059">检察院依照法定程序</text>
<rect class="bx" x="995" y="2985" width="70" height="24"/><text class="bt bm" x="1030" y="3001">第四十八条</text>
</g>

<g id="labels-12" class="t">
<text x="322" y="3128">监察对象对</text>
<text x="416" y="3115">监察机关作出的</text>
<text x="416" y="3141">涉及本人的</text>
<text x="621" y="3101">可以在收到处理决定</text>
<text x="621" y="3116">之日起一个月内</text>
<text x="761" y="3101">向作出决定的</text>
<text x="761" y="3116">监察机关申请复审</text>
<text x="322" y="3168">复审机关应当在一个月内作出复审决定</text>
<text x="322" y="3207">监察对象对复审决定仍不服的</text>
<text x="505" y="3194">可以在收到复审决定之日起一个月内</text>
<text x="722" y="3194">向上一级监察机关申请复核</text>
<text x="505" y="3219">复核机关应当在二个月内作出复核决定</text>
<text x="322" y="3245">复审、复核期间</text>
<text x="438" y="3245">不停止原处理决定的执行</text>
<text x="322" y="3271">复核机关经审查</text>
<text x="438" y="3271">认定处理决定有错误的</text>
<text x="589" y="3271">原处理机关应当及时予以纠正</text>
</g>
<g id="boxes-12">
<rect class="bx" x="534" y="3103" width="60" height="39"/><text class="bt" x="542" y="3120">处理决定</text><text class="bt" x="542" y="3135">不服的</text>
<rect class="bx" x="896" y="3170" width="71" height="23"/><text class="bt bm" x="931.5" y="3185">第四十九条</text>
</g>

<text id="watermark" x="547" y="3234" style="font-family:'Noto Sans CJK SC',sans-serif;font-size:44px;font-weight:300;letter-spacing:11px;fill:#55554d;opacity:0.55">反腐前沿微信公众号</text>
</svg>
